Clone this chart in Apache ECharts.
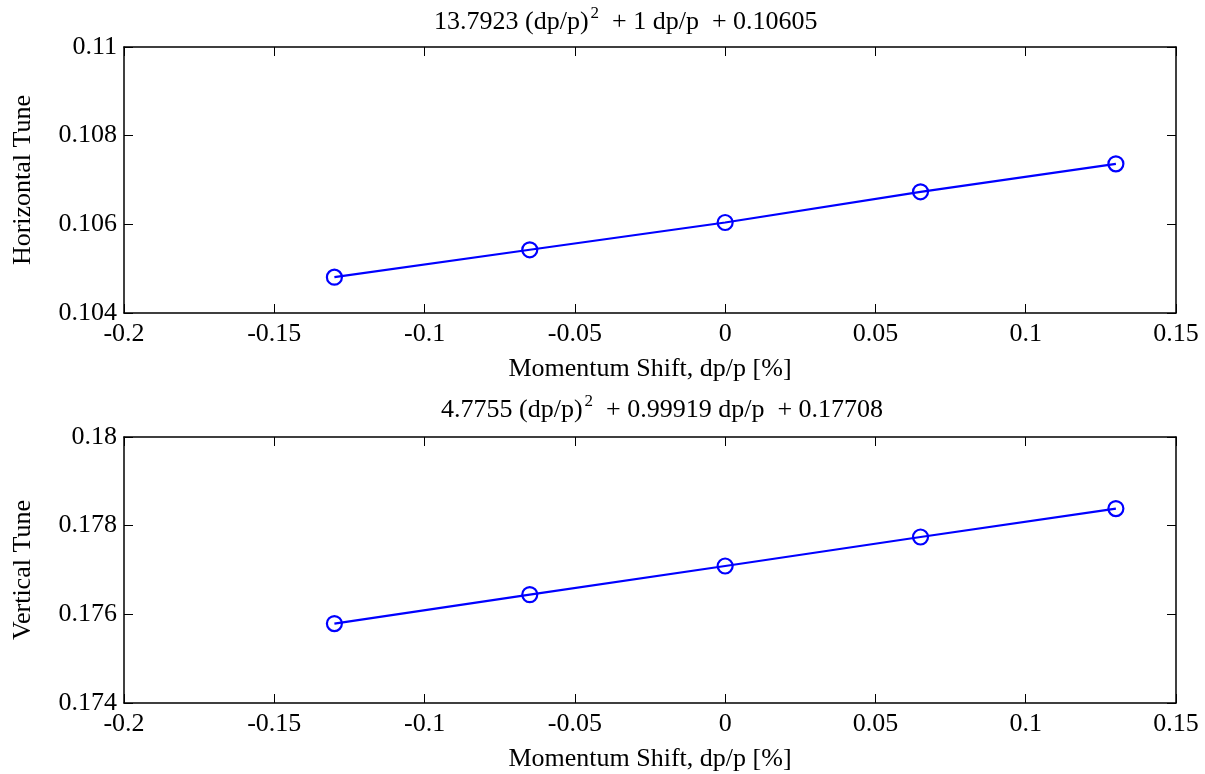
<!DOCTYPE html>
<html>
<head>
<meta charset="utf-8">
<script src="https://cdn.jsdelivr.net/npm/echarts@6/dist/echarts.min.js"></script>
<style>html,body{margin:0;padding:0;background:#fff;}#c{width:1205px;height:774px;}</style>
</head>
<body>
<div id="c"></div>
<script>
// Data
const dpp = [-0.13, -0.065, 0, 0.065, 0.13];
const horizontalTune = [0.104808, 0.105426, 0.106041, 0.106734, 0.107365];
const verticalTune = [0.175791, 0.176445, 0.17709, 0.177744, 0.178385];
const titleTop = ['13.7923 (dp/p)', '2', '  + 1 dp/p  + 0.10605'];
const titleBottom = ['4.7755 (dp/p)', '2', '  + 0.99919 dp/p  + 0.17708'];
const xName = 'Momentum Shift, dp/p [%]';
const yNameTop = 'Horizontal Tune';
const yNameBottom = 'Vertical Tune';

const FONT = '"Liberation Serif", "Times New Roman", serif';
const FS = 26;
const chart = echarts.init(document.getElementById('c'), null, {renderer: 'canvas'});

function pts(ys) { return dpp.map((x, i) => [x, ys[i]]); }

const axisLine = {show: true, onZero: false, lineStyle: {color: '#000', width: 1.5}};
const tick = {show: true, inside: true, length: 9, lineStyle: {color: '#000', width: 1}};

function xAxes(gi) {
  return [
    {gridIndex: gi, type: 'value', min: -0.2, max: 0.15, interval: 0.05, position: 'bottom',
     name: xName, nameLocation: 'middle', nameGap: 43,
     nameTextStyle: {fontFamily: FONT, fontSize: FS, color: '#000'},
     axisLine: axisLine, axisTick: tick, splitLine: {show: false},
     axisLabel: {fontFamily: FONT, fontSize: FS, color: '#000', margin: 8}},
    {gridIndex: gi, type: 'value', min: -0.2, max: 0.15, interval: 0.05, position: 'top',
     axisLine: axisLine, axisTick: tick, splitLine: {show: false}, axisLabel: {show: false}}
  ];
}
function yAxes(gi, min, max, name) {
  return [
    {gridIndex: gi, type: 'value', min: min, max: max, interval: 0.002, position: 'left',
     name: name, nameLocation: 'middle', nameGap: 88, nameRotate: 90,
     nameTextStyle: {fontFamily: FONT, fontSize: FS, color: '#000'},
     axisLine: axisLine, axisTick: tick, splitLine: {show: false},
     axisLabel: {fontFamily: FONT, fontSize: FS, color: '#000', margin: 7}},
    {gridIndex: gi, type: 'value', min: min, max: max, interval: 0.002, position: 'right',
     axisLine: axisLine, axisTick: tick, splitLine: {show: false}, axisLabel: {show: false}}
  ];
}

function richTitle(parts, left, top) {
  return {
    text: '{a|' + parts[0] + '}{s|' + parts[1] + '}{a|' + parts[2] + '}',
    left: left, top: top, padding: 0,
    textStyle: {
      fontWeight: 'normal',
      rich: {
        a: {fontFamily: FONT, fontSize: FS, fontWeight: 'normal', color: '#000', verticalAlign: 'bottom', lineHeight: 30},
        s: {fontFamily: FONT, fontSize: 17, fontWeight: 'normal', color: '#000', verticalAlign: 'top', lineHeight: 30, padding: [0, 0, 14, 2]}
      }
    }
  };
}

function series(xi, yi, data) {
  return {
    type: 'line', xAxisIndex: xi, yAxisIndex: yi, data: data,
    symbol: 'circle', symbolSize: 15, showSymbol: true,
    lineStyle: {color: '#0000ff', width: 2.2},
    itemStyle: {color: 'rgba(255,255,255,0)', borderColor: '#0000ff', borderWidth: 2.2},
    animation: false, silent: true
  };
}

chart.setOption({
  backgroundColor: '#fff',
  animation: false,
  title: [richTitle(titleTop, 434, 5), richTitle(titleBottom, 441, 393)],
  grid: [
    {left: 124, right: 29, top: 47, height: 266, containLabel: false, outerBoundsMode: 'none'},
    {left: 124, right: 29, top: 437, height: 266, containLabel: false, outerBoundsMode: 'none'}
  ],
  xAxis: [...xAxes(0), ...xAxes(1)],
  yAxis: [...yAxes(0, 0.104, 0.11, yNameTop), ...yAxes(1, 0.174, 0.18, yNameBottom)],
  series: [series(0, 0, pts(horizontalTune)), series(2, 2, pts(verticalTune))]
});
</script>
</body>
</html>
